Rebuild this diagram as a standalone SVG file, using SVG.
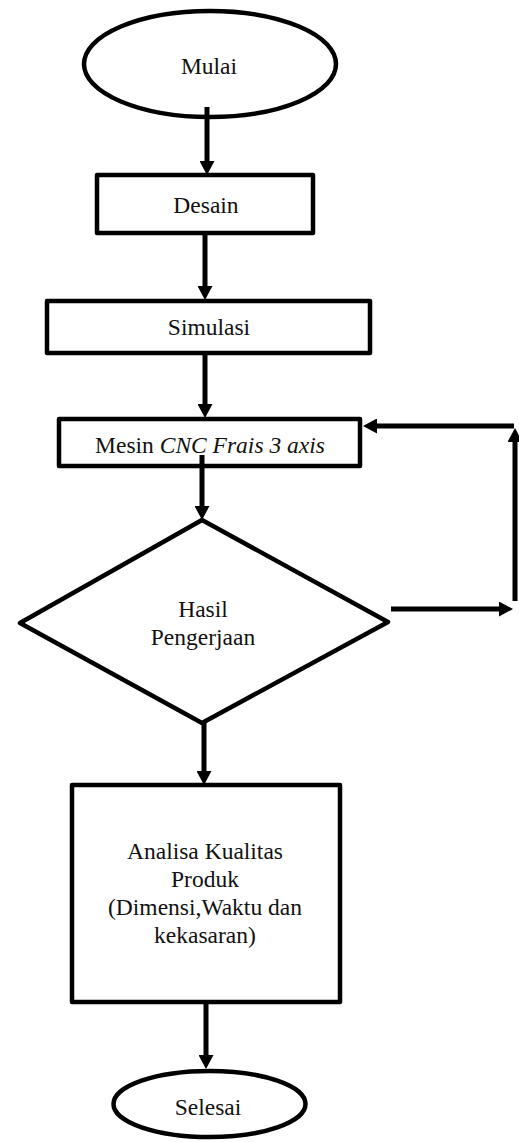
<svg xmlns="http://www.w3.org/2000/svg" width="519" height="1142" viewBox="0 0 519 1142">
<style>
.s{fill:#fff;stroke:#000;stroke-width:4.5;stroke-linejoin:round}
.t{font-family:"Liberation Serif","Times New Roman",serif;font-size:23.5px;fill:#111;text-anchor:middle}
.c{fill:none;stroke:#000;stroke-width:5}
</style>
<defs>
<marker id="ah" viewBox="0 -7.5 14 15" refX="0" refY="0" markerWidth="14" markerHeight="15" markerUnits="userSpaceOnUse" orient="auto">
<path d="M0,-7.5 L14,0 L0,7.5 z" fill="#000"/>
</marker>
</defs>
<g id="mulai"><ellipse class="s" cx="210" cy="64" rx="126" ry="53"/><text class="t" x="209" y="74">Mulai</text></g>
<g id="desain"><rect class="s" x="97" y="175" width="216" height="58"/><text class="t" x="206" y="213">Desain</text></g>
<g id="simulasi"><rect class="s" x="47" y="301" width="323" height="52"/><text class="t" x="209" y="335">Simulasi</text></g>
<g id="mesin"><rect class="s" x="59" y="419" width="301" height="47"/><text class="t" x="210" y="453">Mesin <tspan font-style="italic">CNC Frais 3 axis</tspan></text></g>
<g id="hasil"><polygon class="s" points="202,520 388,622 202,723 20,623"/><text class="t" x="203" y="617">Hasil</text><text class="t" x="203" y="645">Pengerjaan</text></g>
<g id="analisa"><rect class="s" x="72" y="785" width="268" height="217"/><text class="t" x="205" y="859">Analisa Kualitas</text><text class="t" x="205" y="887">Produk</text><text class="t" x="205" y="915">(Dimensi,Waktu dan</text><text class="t" x="205" y="943">kekasaran)</text></g>
<g id="selesai"><ellipse class="s" cx="209.5" cy="1104" rx="96" ry="33"/><text class="t" x="208" y="1115">Selesai</text></g>
<g id="connectors">
<line class="c" x1="207" y1="107" x2="207" y2="161" marker-end="url(#ah)"/>
<line class="c" x1="205" y1="233" x2="205" y2="286" marker-end="url(#ah)"/>
<line class="c" x1="205" y1="353" x2="205" y2="404" marker-end="url(#ah)"/>
<line class="c" x1="202" y1="455" x2="202" y2="506" marker-end="url(#ah)"/>
<line class="c" x1="204" y1="721" x2="204" y2="771" marker-end="url(#ah)"/>
<line class="c" x1="206" y1="1002" x2="206" y2="1055" marker-end="url(#ah)"/>
<line class="c" x1="391" y1="609" x2="499" y2="609" marker-end="url(#ah)"/>
<line class="c" x1="515" y1="601" x2="515" y2="442" marker-end="url(#ah)"/>
<line class="c" x1="514" y1="426" x2="377" y2="426" marker-end="url(#ah)"/>
</g>
</svg>
